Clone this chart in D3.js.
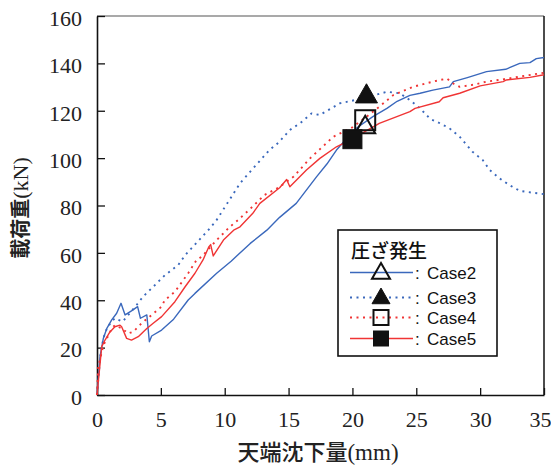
<!DOCTYPE html>
<html>
<head>
<meta charset="utf-8">
<script src="https://cdn.jsdelivr.net/npm/d3@7"></script>
<style>
  body { margin: 0; background: #fff; }
  svg { display: block; }
</style>
</head>
<body>
<script>
// load-settlement curves, [settlement mm, load kN]
const case2 = [[0,0],[0.23,16],[0.5,24],[0.76,28],[1.15,31.7],[1.54,34.5],[1.88,38.7],[2.2,33.8],[2.7,35.5],[3.18,37.3],[3.4,32.4],[3.9,33.8],[4.1,22.5],[4.28,24.9],[5.06,27.4],[6,32],[7.14,40.1],[7.67,42.9],[9.37,51.4],[10.5,56.5],[12,64],[13.3,69.6],[14.3,75],[15.6,80.9],[17.2,92.2],[18,97.5],[18.75,103.4],[19.5,108],[20.3,112.6],[21.6,117.5],[22.7,121],[23.5,124],[24.5,126.5],[25.3,127.4],[26.3,128.7],[27.6,130.1],[27.9,132.3],[29,134],[30.5,136.5],[32,137.5],[33.1,140],[33.9,140.3],[34.4,142],[35,142.5]];
const case3 = [[0,0],[0.25,16],[0.5,24],[0.8,28.5],[1.15,31],[1.4,32.4],[2.0,31],[2.45,33.8],[3.1,38],[3.6,41.5],[4.4,45.7],[5.3,50.5],[6.36,54.9],[6.9,59],[8.84,70.4],[9.37,73.9],[11.2,89.4],[12,94.3],[13.5,103.4],[14.2,106.5],[15.1,111.9],[15.9,114.7],[16.8,118.9],[17.45,118.2],[19.0,123.1],[20.2,124.5],[21,125.5],[22.7,128],[23.7,127.4],[24.5,124.5],[25.3,121],[26.1,116.5],[26.6,115.4],[27.6,112.6],[28.4,109],[29.4,102.7],[30.2,99.2],[30.75,95],[31.5,91.5],[32.3,88.6],[33.1,86.2],[34.1,85.4],[35,84.8]];
const case4 = [[0,0],[0.1,12],[0.5,21],[1.15,28],[1.4,29.5],[1.93,28.1],[2.45,26],[2.84,26.7],[3.5,30.3],[4.28,33.8],[5.06,37.3],[5.3,40],[6.1,43.6],[7.14,51.4],[7.8,57],[8.2,58.4],[9.37,65.4],[10.4,71],[11.05,73.9],[12,78.6],[13.1,84.4],[14.2,87.5],[15.4,92.2],[16.7,100],[18.5,109],[20,113],[21.1,117.5],[22.1,121.7],[23.2,126.6],[24.75,130.1],[26.3,132.3],[27.4,133.6],[27.9,131.5],[28.4,130.1],[29.5,131],[30.5,132.3],[31.5,133],[33.1,134.4],[34.7,135.8],[35,136]];
const case5 = [[0,0],[0.37,20.4],[0.63,23.2],[1.0,26.5],[1.4,28.8],[1.8,29.5],[1.93,28.8],[2.32,23.9],[2.7,23.2],[3.23,24.6],[3.9,28.1],[4.4,30.3],[5.06,33.1],[6.1,39.4],[6.9,45.7],[7.67,51.4],[8.3,57],[8.75,62.5],[8.9,63.5],[9.1,58.7],[9.9,65.4],[10.7,69.6],[11.2,71],[12.2,76.7],[12.75,80.9],[14.3,87.5],[14.85,91],[15.1,87.9],[16.4,95],[17.45,99.9],[18.75,104.8],[19.8,107.6],[21.9,114],[22.1,114.7],[24.5,119.6],[24.9,121],[26.8,123.8],[27.1,125.5],[28.4,127.4],[30,130.5],[31.8,132.3],[32.05,133],[33.9,134.1],[35,135.2]];

// crushing points (圧ざ発生)
const crushX = [21.0, 21.1, 21.0, 20.0];
const crushY = [113, 126, 116, 108];

const caseNames = ["Case2", "Case3", "Case4", "Case5"];
const xTicks = [0, 5, 10, 15, 20, 25, 30, 35];
const yTicks = [0, 20, 40, 60, 80, 100, 120, 140, 160];

const width = 551;
const height = 466;
const blue = "#3a68bc";
const red = "#f03434";

const styles = [
    { color: blue, dash: null, marker: "triOpen" },
    { color: blue, dash: "2,4.5", marker: "triFill" },
    { color: red, dash: "2,4.5", marker: "sqOpen" },
    { color: red, dash: null, marker: "sqFill" }
];

const svg = d3.select("body").append("svg")
    .attr("width", width)
    .attr("height", height);

svg.append("rect").attr("width", width).attr("height", height).attr("fill", "#fff");

const x = d3.scaleLinear().domain([0, 35]).range([97, 544]);
const y = d3.scaleLinear().domain([0, 160]).range([395, 16]);

// frame top / right
svg.append("line").attr("x1", x(0)).attr("x2", x(35)).attr("y1", y(160)).attr("y2", y(160))
    .attr("stroke", "#555").attr("stroke-width", 1.2);
svg.append("line").attr("x1", x(35)).attr("x2", x(35)).attr("y1", y(160)).attr("y2", y(0))
    .attr("stroke", "#111").attr("stroke-width", 1.5);

const tickFont = "Liberation Serif, DejaVu Serif, serif";

const gx = svg.append("g").attr("transform", "translate(0," + y(0) + ")")
    .call(d3.axisBottom(x).tickValues(xTicks).tickSizeInner(-7).tickSizeOuter(0).tickPadding(16));
const gy = svg.append("g").attr("transform", "translate(" + x(0) + ",0)")
    .call(d3.axisLeft(y).tickValues(yTicks).tickSizeInner(-8).tickSizeOuter(0).tickPadding(15));

[gx, gy].forEach(function(g) {
    g.attr("font-family", tickFont).attr("font-size", 22);
    g.select(".domain").attr("stroke", "#111").attr("stroke-width", 1.6);
    g.selectAll(".tick line").attr("stroke", "#111").attr("stroke-width", 1.3);
    g.selectAll(".tick text")
        .attr("fill", "#222")
        .attr("font-family", tickFont)
        .attr("font-size", 22);
});
gy.selectAll(".tick text").attr("dy", "0.42em");
// last x label sits against the page edge
gx.selectAll(".tick text").filter(d => d === 35).attr("dx", -4);

// curves
const line = d3.line().x(d => x(d[0])).y(d => y(d[1]));
const series = [case2, case3, case4, case5];

series.forEach(function(data, i) {
    svg.append("path")
        .datum(data)
        .attr("d", line)
        .attr("fill", "none")
        .attr("stroke", styles[i].color)
        .attr("stroke-width", styles[i].dash ? 1.9 : 1.4)
        .attr("stroke-dasharray", styles[i].dash)
        .attr("stroke-linejoin", "round");
});

function drawMarker(g, kind, cx, cy, s) {
    if (kind === "triOpen" || kind === "triFill") {
        const h = s * 0.87;
        g.append("path")
            .attr("d", "M" + cx + "," + (cy - h * 2 / 3) + "L" + (cx + s / 2) + "," + (cy + h / 3) + "L" + (cx - s / 2) + "," + (cy + h / 3) + "Z")
            .attr("fill", kind === "triFill" ? "#111" : "none")
            .attr("stroke", "#111")
            .attr("stroke-width", kind === "triFill" ? 1 : 2);
    } else {
        g.append("rect")
            .attr("x", cx - s / 2).attr("y", cy - s / 2)
            .attr("width", s).attr("height", s)
            .attr("fill", kind === "sqFill" ? "#111" : "none")
            .attr("stroke", "#111")
            .attr("stroke-width", kind === "sqFill" ? 1 : 2);
    }
}

const markerSize = [20, 22, 20, 19];
crushX.forEach(function(d, i) {
    drawMarker(svg, styles[i].marker, x(d), y(crushY[i]), markerSize[i]);
});

// legend
const lg = svg.append("g");
lg.append("rect")
    .attr("x", 338).attr("y", 230).attr("width", 159).attr("height", 126)
    .attr("fill", "#fff").attr("stroke", "#111").attr("stroke-width", 1.6);
lg.append("text")
    .attr("x", 351).attr("y", 258)
    .style("font-family", "'Noto Sans CJK JP', sans-serif")
    .style("font-size", "19px")
    .style("font-weight", 500)
    .attr("fill", "#111")
    .text("圧ざ発生");

const legendY = [272.5, 297.5, 317.5, 338.5];
const legendMarker = [18, 18, 15, 15];
caseNames.forEach(function(name, i) {
    const ly = legendY[i];
    lg.append("line")
        .attr("x1", 350).attr("x2", 413).attr("y1", ly).attr("y2", ly)
        .attr("stroke", styles[i].color)
        .attr("stroke-width", styles[i].dash ? 1.9 : 1.6)
        .attr("stroke-dasharray", styles[i].dash);
    drawMarker(lg, styles[i].marker, 381, ly + (i < 2 ? 1 : 0), legendMarker[i]);
    lg.append("text")
        .attr("x", 415).attr("y", ly + 6)
        .style("font-family", "'Liberation Sans', Arial, sans-serif")
        .style("font-size", "17px")
        .attr("fill", "#111")
        .text(":");
    lg.append("text")
        .attr("x", 427).attr("y", ly + 6)
        .style("font-family", "'Liberation Sans', Arial, sans-serif")
        .style("font-size", "17px")
        .attr("fill", "#111")
        .text(name);
});

// axis titles
const xt = svg.append("text")
    .attr("x", 318).attr("y", 460)
    .attr("text-anchor", "middle")
    .attr("fill", "#222");
xt.append("tspan")
    .attr("font-family", "Noto Sans CJK JP, sans-serif")
    .attr("font-size", 22)
    .attr("font-weight", 500)
    .text("天端沈下量");
xt.append("tspan")
    .attr("font-family", tickFont)
    .attr("font-size", 23)
    .text("(mm)");

const yt = svg.append("text")
    .attr("transform", "translate(28,208) rotate(-90)")
    .attr("text-anchor", "middle")
    .attr("fill", "#222");
yt.append("tspan")
    .attr("font-family", "Noto Sans CJK JP, sans-serif")
    .attr("font-size", 20)
    .attr("font-weight", 700)
    .text("載荷重");
yt.append("tspan")
    .attr("font-family", tickFont)
    .attr("font-size", 22)
    .text("(kN)");
</script>
</body>
</html>
